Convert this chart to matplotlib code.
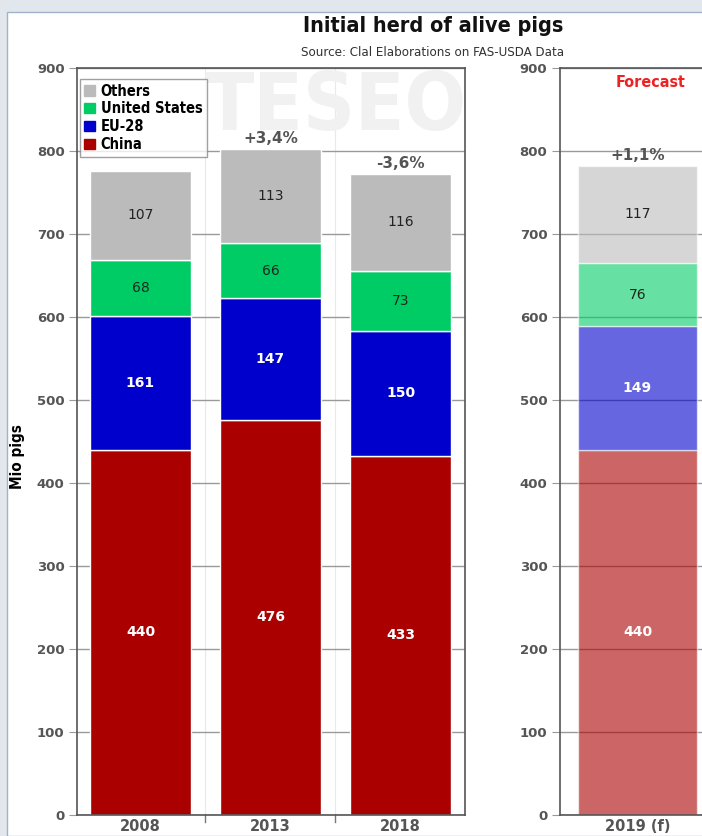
import matplotlib
matplotlib.use("Agg")
import matplotlib.pyplot as plt
from matplotlib.patches import Rectangle
from matplotlib import font_manager as fm

# ---- data ----
years = ["2008", "2013", "2018"]
forecast_year = ["2019 (f)"]
series = ["China", "EU-28", "United States", "Others"]
china = [440, 476, 433]
eu28 = [161, 147, 150]
usa = [68, 66, 73]
others = [107, 113, 116]
china_f = [440]
eu28_f = [149]
usa_f = [76]
others_f = [117]
changes = ["", "+3,4%", "-3,6%"]
change_f = ["+1,1%"]
yticks = [0, 100, 200, 300, 400, 500, 600, 700, 800, 900]

colors = {"China": "#AA0000", "EU-28": "#0000CC", "United States": "#00CC66", "Others": "#BBBBBB"}
label_colors = {"China": "white", "EU-28": "white", "United States": "#1a2a1a", "Others": "#222222"}
label_weight = {"China": "bold", "EU-28": "bold", "United States": "normal", "Others": "normal"}

names = set(f.name for f in fm.fontManager.ttflist)
narrow = "Liberation Sans Narrow" if "Liberation Sans Narrow" in names else "DejaVu Sans"
nstretch = "normal" if narrow == "Liberation Sans Narrow" else "condensed"

W, H = 702, 836
fig = plt.figure(figsize=(W / 100, H / 100), dpi=100)
fig.patch.set_facecolor("#E2E7ED")
fig.patches.append(Rectangle((7 / W, 0), 1, 1 - 12 / H, transform=fig.transFigure,
                             facecolor="white", edgecolor="#9FB4C8", lw=1.0, zorder=-5))

def px(x0, y0, x1, y1):
    return [x0 / W, 1 - y1 / H, (x1 - x0) / W, (y1 - y0) / H]

ax1 = fig.add_axes(px(77, 68, 465, 815))
ax2 = fig.add_axes(px(560, 68, 715, 815))

def style(ax):
    ax.set_ylim(0, 900)
    ax.set_yticks(yticks)
    ax.set_facecolor("none")
    ax.grid(axis="y", color="#999999", lw=1.0, zorder=0)
    ax.set_axisbelow(True)
    for s in ax.spines.values():
        s.set_color("#555555")
        s.set_linewidth(1.2)
    ax.tick_params(axis="y", length=6, color="#999999", labelsize=9.5, labelcolor="#555555", pad=3)
    for t in ax.get_yticklabels():
        t.set_fontweight("bold")
    ax.tick_params(axis="x", length=0, labelsize=10.5, labelcolor="#555555", pad=3)

def draw(ax, xs, data, width, alpha):
    bottom = [0] * len(xs)
    for name, vals in data:
        ax.bar(xs, vals, width, bottom=bottom, color=colors[name], alpha=alpha,
               edgecolor="white", linewidth=1.0, zorder=2)
        for x, b, v in zip(xs, bottom, vals):
            ax.text(x, b + v / 2, str(v), ha="center", va="center", fontsize=10,
                    color=label_colors[name], fontweight=label_weight[name], zorder=4)
        bottom = [b + v for b, v in zip(bottom, vals)]
    return bottom

# left axes
style(ax1)
xs = list(range(len(years)))
tops = draw(ax1, xs, [("China", china), ("EU-28", eu28), ("United States", usa), ("Others", others)], 0.777, 1.0)
ax1.set_xlim(-0.488, 2.496)
ax1.set_xticks(xs)
ax1.set_xticklabels(years, fontweight="bold")
for b in [0.5, 1.5]:
    ax1.axvline(b, color="#F0E6E6", lw=0.8, zorder=0)
    ax1.plot([b, b], [0, -8], color="#777777", lw=1, clip_on=False)
for x, t, c in zip(xs, tops, changes):
    if c:
        ax1.text(x, t + 4, c, ha="center", va="bottom", fontsize=11, fontweight="bold", color="#555555", zorder=5)

# watermark (faint logo)
ax1.text(1.5, 805, "TESEO", ha="center", va="bottom", fontsize=58, fontweight="bold",
         color="#F1F1F1", family=narrow, stretch=nstretch, zorder=0.5)

# legend
handles = [Rectangle((0, 0), 1, 1, color=colors[n]) for n in ["Others", "United States", "EU-28", "China"]]
leg = ax1.legend(handles, ["Others", "United States", "EU-28", "China"], loc="upper left",
                 bbox_to_anchor=(0.008, 0.985), frameon=True, fancybox=False, handlelength=0.7,
                 handleheight=0.7, handletextpad=0.4, labelspacing=0.2, borderpad=0.3,
                 borderaxespad=0.0,
                 prop={"family": narrow, "stretch": nstretch, "weight": "bold", "size": 10.5})
leg.get_frame().set_edgecolor("#888888")
leg.get_frame().set_linewidth(1.0)
leg.set_zorder(6)

ax1.set_ylabel("Mio pigs", fontsize=11, fontweight="bold", family=narrow, stretch=nstretch)
ax1.yaxis.set_label_coords(-0.135, 0.48)

# right axes (forecast)
style(ax2)
tops_f = draw(ax2, [0], [("China", china_f), ("EU-28", eu28_f), ("United States", usa_f), ("Others", others_f)], 0.92, 0.6)
ax2.set_xlim(-0.6, 0.6)
ax2.set_xticks([0])
ax2.set_xticklabels(forecast_year, fontweight="bold")
ax2.text(0, tops_f[0] + 4, change_f[0], ha="center", va="bottom", fontsize=11, fontweight="bold", color="#555555")
ax2.text(0.1, 883, "Forecast", ha="center", va="center", fontsize=11.5, fontweight="bold", color="#EE2222",
         family=narrow, stretch=nstretch)

fig.text(433 / W, 1 - 26 / H, "Initial herd of alive pigs", ha="center", va="center",
         fontsize=15.5, fontweight="bold", family=narrow, stretch=nstretch, color="#111111")
fig.text(433 / W, 1 - 52 / H, "Source: Clal Elaborations on FAS-USDA Data", ha="center", va="center",
         fontsize=9.5, family=narrow, stretch=nstretch, color="#333333")

fig.savefig("out.png", dpi=100)
